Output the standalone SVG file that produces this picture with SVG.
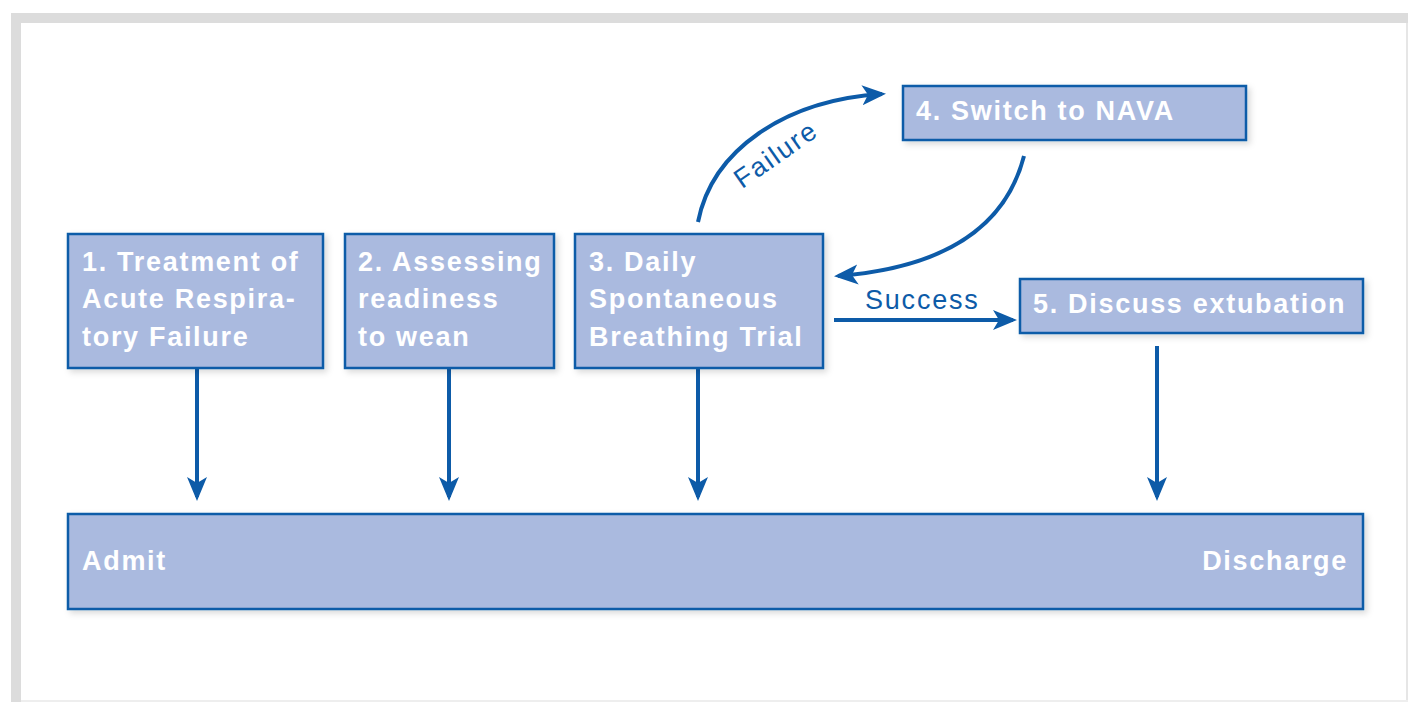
<svg xmlns="http://www.w3.org/2000/svg" width="1408" height="702" viewBox="0 0 1408 702">
<defs>
<style>
.box{fill:#aabadf;stroke:#0d5ba8;stroke-width:2.5;filter:url(#sh)}
.t{font-family:"Liberation Sans",Arial,sans-serif;font-weight:bold;font-size:27px;letter-spacing:1.7px;fill:#ffffff}
.lbl{font-family:"Liberation Sans",Arial,sans-serif;font-size:27px;letter-spacing:1.8px;fill:#0d5ba8}
.c{fill:none;stroke:#0d5ba8;stroke-width:4;marker-end:url(#ah)}
</style>
<filter id="sh" x="-10%" y="-20%" width="130%" height="150%">
<feDropShadow dx="3" dy="3" stdDeviation="3" flood-color="#000" flood-opacity="0.15"/>
</filter>
<marker id="ah" viewBox="0 0 12 10" refX="10" refY="5" markerWidth="6" markerHeight="5.5" orient="auto" markerUnits="strokeWidth">
<path d="M0,0 L12,5 L0,10 L3,5 z" fill="#0d5ba8"/>
</marker>
</defs>
<rect x="0" y="0" width="1408" height="702" fill="#ffffff"/>
<rect x="11" y="13" width="1397" height="10" fill="#dcdcdc"/>
<rect x="11" y="13" width="10" height="689" fill="#dcdcdc"/>
<rect x="1406" y="23" width="2" height="679" fill="#e6e6e6"/>
<rect x="21" y="700" width="1387" height="2" fill="#eeeeee"/>

<g id="connectors">
<line class="c" x1="197" y1="369" x2="197" y2="497"/>
<line class="c" x1="449" y1="369" x2="449" y2="497"/>
<line class="c" x1="698" y1="369" x2="698" y2="497"/>
<line class="c" x1="1157" y1="346" x2="1157" y2="497"/>
<path class="c" d="M698,222 C712,150 785,100 882,94"/>
<path class="c" d="M1024,156 C1005,230 940,268 838,276"/>
<line class="c" x1="834" y1="320" x2="1013" y2="320"/>
<text class="lbl" transform="translate(781,162) rotate(-35)" text-anchor="middle">Failure</text>
<text class="lbl" x="865" y="309">Success</text>
</g>

<g id="node1">
<rect class="box" x="68" y="234" width="255" height="134"/>
<text class="t" x="82" y="271">1. Treatment of</text>
<text class="t" x="82" y="308">Acute Respira-</text>
<text class="t" x="82" y="346">tory Failure</text>
</g>
<g id="node2">
<rect class="box" x="345" y="234" width="209" height="134"/>
<text class="t" x="358" y="271">2. Assessing</text>
<text class="t" x="358" y="308">readiness</text>
<text class="t" x="358" y="346">to wean</text>
</g>
<g id="node3">
<rect class="box" x="575" y="234" width="248" height="134"/>
<text class="t" x="589" y="271">3. Daily</text>
<text class="t" x="589" y="308">Spontaneous</text>
<text class="t" x="589" y="346">Breathing Trial</text>
</g>
<g id="node4">
<rect class="box" x="903" y="86" width="343" height="54"/>
<text class="t" x="916" y="120">4. Switch to NAVA</text>
</g>
<g id="node5">
<rect class="box" x="1020" y="279" width="343" height="54"/>
<text class="t" x="1033" y="313">5. Discuss extubation</text>
</g>
<g id="timeline">
<rect class="box" x="68" y="514" width="1295" height="95"/>
<text class="t" x="82" y="570">Admit</text>
<text class="t" x="1348" y="570" text-anchor="end">Discharge</text>
</g>
</svg>
